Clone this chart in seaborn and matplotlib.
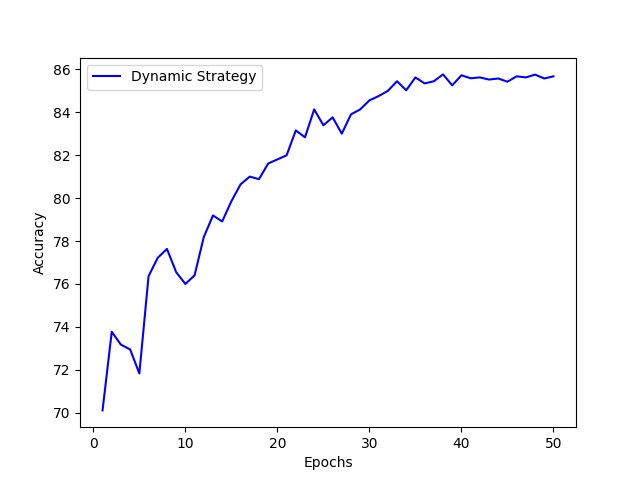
import matplotlib
matplotlib.use("Agg")
import matplotlib.pyplot as plt
import seaborn as sns
import pandas as pd

epochs = list(range(1, 51))
accuracy = [70.11, 73.77, 73.17, 72.95, 71.83, 76.36, 77.22, 77.63, 76.55, 76.0,
            76.40, 78.18, 79.19, 78.91, 79.85, 80.64, 81.0, 80.88, 81.61, 81.8,
            81.99, 83.15, 82.83, 84.13, 83.39, 83.76, 83.0, 83.9, 84.13, 84.55,
            84.75, 84.99, 85.44, 85.02, 85.62, 85.34, 85.44, 85.76, 85.25, 85.72,
            85.58, 85.62, 85.52, 85.57, 85.42, 85.67, 85.62, 85.75, 85.57, 85.67]

df = pd.DataFrame({"Epochs": epochs, "Accuracy": accuracy})

fig, ax = plt.subplots(figsize=(6.4, 4.8), dpi=100)
sns.lineplot(data=df, x="Epochs", y="Accuracy", color="blue", label="Dynamic Strategy", ax=ax)
ax.set_xlabel("Epochs")
ax.set_ylabel("Accuracy")
ax.legend(loc="upper left")
fig.savefig("out.png", dpi=100)
